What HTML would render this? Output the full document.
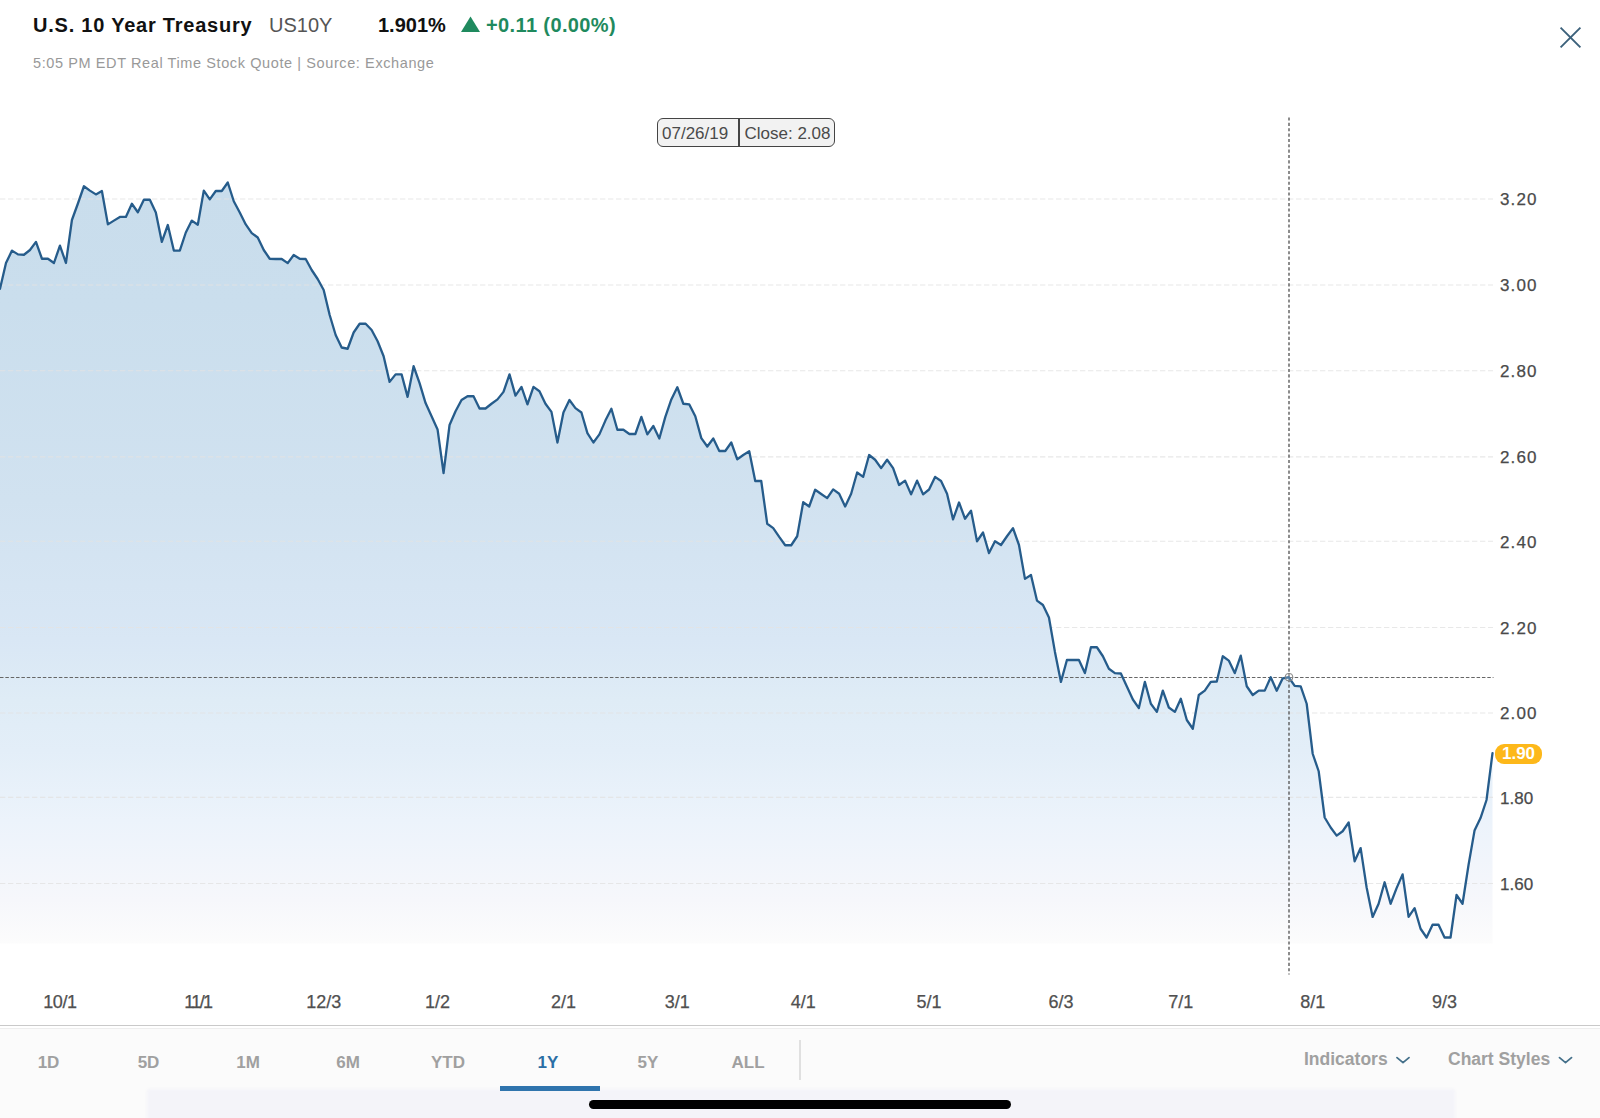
<!DOCTYPE html>
<html><head><meta charset="utf-8"><title>US10Y</title>
<style>
html,body{margin:0;padding:0;background:#fff;width:1600px;height:1118px;overflow:hidden;}
#root{width:1600px;height:1118px;position:relative;overflow:hidden;font-family:"Liberation Sans",sans-serif;}
.abs{position:absolute;white-space:nowrap;}
#title{left:33px;top:12.6px;font-size:20px;font-weight:bold;color:#111;line-height:24px;letter-spacing:0.78px;}
#sym{left:269px;top:12.6px;font-size:20px;color:#555;line-height:24px;}
#px{left:378px;top:12.6px;font-size:20px;font-weight:bold;color:#111;line-height:24px;}
#chg{left:486px;top:12.6px;font-size:20px;font-weight:bold;color:#1f8a5e;line-height:24px;letter-spacing:0.38px;}
#sub{left:33px;top:55px;font-size:14.5px;color:#999;line-height:16px;letter-spacing:0.6px;}
svg{position:absolute;left:0;top:0;}
.yl{position:absolute;left:1500px;width:60px;height:20px;line-height:20px;font-size:17px;color:#4a4a4a;letter-spacing:1.15px;-webkit-text-stroke:0.25px #4a4a4a;}
.xl{position:absolute;top:991.5px;width:60px;text-align:center;height:20px;line-height:20px;font-size:18px;color:#505050;-webkit-text-stroke:0.25px #505050;}
#bar{position:absolute;left:0;top:1025px;width:1600px;height:93px;background:linear-gradient(#c9c9c9 0,#c9c9c9 1.2px,#fff 1.2px,#fff 3px,#eee 3px,#eee 4px,#fbfbfb 4px);}
.tab{position:absolute;top:1052px;width:100px;text-align:center;height:22px;line-height:22px;font-size:17px;font-weight:bold;color:#a0a0a0;}
.tab.on{color:#2a6ea5;}
#ul{position:absolute;left:500px;top:1086px;width:100px;height:5px;background:#2f74ad;}
#dv{position:absolute;left:799.3px;top:1040px;width:1.4px;height:40px;background:#e0e0e0;}
.rt{position:absolute;top:1047.5px;height:22px;line-height:22px;font-size:17.5px;font-weight:bold;color:#a0a0a0;white-space:nowrap;}
#strip{position:absolute;left:149.5px;top:1091.5px;width:1302px;height:30px;background:#f4f4f9;box-shadow:0 0 3px 3px #f4f4f9;}
#home{position:absolute;left:589px;top:1100px;width:422px;height:8.5px;border-radius:5px;background:#000;}
#tip{position:absolute;left:657px;top:118px;width:176px;height:27px;border:1.5px solid #444;border-radius:6px;background:#f2f2f2;font-size:17px;color:#4a4a4a;line-height:27px;}
#tip .d{position:absolute;left:4px;top:0.5px;}
#tip .c{position:absolute;left:86.5px;top:0.5px;}
#tip .s{position:absolute;left:80.3px;top:0;width:1.5px;height:27px;background:#444;}
#badge{position:absolute;left:1495px;top:744px;width:47px;height:20px;border-radius:9px;background:#fdb81a;color:#fff;font-weight:bold;font-size:17px;line-height:20px;text-align:center;}
</style></head><body><div id="root">
<div id="title" class="abs">U.S. 10 Year Treasury</div>
<div id="sym" class="abs">US10Y</div>
<div id="px" class="abs">1.901%</div>
<div id="chg" class="abs">+0.11 (0.00%)</div>
<div id="sub" class="abs">5:05 PM EDT Real Time Stock Quote | Source: Exchange</div>
<svg width="1600" height="1118" viewBox="0 0 1600 1118">
<defs><linearGradient id="g" gradientUnits="userSpaceOnUse" x1="0" y1="180" x2="0" y2="943.5">
<stop offset="0" stop-color="#c9ddec"/>
<stop offset="0.164" stop-color="#cadeed"/>
<stop offset="0.419" stop-color="#d1e2f0"/>
<stop offset="0.602" stop-color="#d9e7f5"/>
<stop offset="0.681" stop-color="#dfecf6"/>
<stop offset="0.747" stop-color="#e3eef8"/>
<stop offset="0.838" stop-color="#ecf3fb"/>
<stop offset="0.943" stop-color="#f6f7fb"/>
<stop offset="1" stop-color="#fcfcfc"/>
</linearGradient></defs>
<path d="M0,943.5 L0.0,288.75 L5.99,263 L11.99,250.6 L17.98,254.4 L23.98,254.75 L29.97,250 L35.96,241.9 L41.96,258.75 L47.95,258.75 L53.95,263 L59.94,245.6 L65.93,263 L71.93,220 L77.92,203.5 L83.92,186.25 L89.91,190.6 L95.9,194.4 L101.9,191 L107.89,224.4 L113.89,220.6 L119.88,216.9 L125.87,216.9 L131.87,203.75 L137.86,212.25 L143.86,199.75 L149.85,199.75 L155.84,212.5 L161.84,241.9 L167.83,225 L173.83,250.6 L179.82,250.6 L185.81,232.5 L191.81,220.6 L197.8,224.7 L203.8,190.6 L209.79,199.4 L215.78,191 L221.78,191 L227.77,182.5 L233.77,201.25 L239.76,212.5 L245.75,224.4 L251.75,233.1 L257.74,237.5 L263.74,250 L269.73,258.75 L275.72,259 L281.72,259 L287.71,263.1 L293.71,255 L299.7,258.75 L305.69,259 L311.69,270 L317.68,279 L323.68,290 L329.67,315 L335.66,335 L341.66,347.5 L347.65,348.75 L353.65,332.5 L359.64,323.75 L365.63,323.75 L371.63,330 L377.62,341.25 L383.62,356.25 L389.61,381.9 L395.6,374.4 L401.6,374.4 L407.59,396.9 L413.59,366.25 L419.58,383.1 L425.57,403.1 L431.57,416.25 L437.56,429.4 L443.56,473.1 L449.55,425 L455.54,411.25 L461.54,400 L467.53,396.25 L473.53,396.25 L479.52,408.5 L485.51,408.5 L491.51,403.75 L497.5,399.4 L503.5,391.9 L509.49,374.4 L515.48,395.6 L521.48,386.9 L527.47,404.4 L533.47,386.9 L539.46,391.25 L545.45,403.75 L551.45,411.9 L557.44,442.5 L563.44,412.5 L569.43,400 L575.42,408.1 L581.42,412.5 L587.41,433.1 L593.41,442.5 L599.4,434.4 L605.39,420.6 L611.39,408.75 L617.38,429.75 L623.38,429.75 L629.37,434 L635.36,434 L641.36,416.9 L647.35,434.4 L653.35,426 L659.34,438.5 L665.33,416.9 L671.33,399.4 L677.32,387.25 L683.32,403.75 L689.31,404.4 L695.3,416.25 L701.3,438.1 L707.29,446.5 L713.29,438.5 L719.28,451 L725.27,451 L731.27,442.5 L737.26,459.4 L743.26,455 L749.25,451.25 L755.24,481 L761.24,481 L767.23,523.75 L773.23,528.1 L779.22,536.9 L785.21,545.25 L791.21,545.25 L797.2,536.25 L803.2,502.25 L809.19,506.5 L815.18,489.75 L821.18,494 L827.17,498.1 L833.17,489.4 L839.16,493.75 L845.15,506.5 L851.15,493.75 L857.14,472.5 L863.14,476.9 L869.13,455 L875.12,459.75 L881.12,468.1 L887.11,459.75 L893.11,468.1 L899.1,485 L905.09,480.6 L911.09,494.4 L917.08,480.6 L923.08,494.4 L929.07,489.5 L935.06,476.9 L941.06,481 L947.05,493.75 L953.05,519.4 L959.04,502.5 L965.03,518.75 L971.03,510.6 L977.02,541.25 L983.02,532.5 L989.01,553.1 L995.0,541.25 L1001.0,545 L1006.99,536.25 L1012.99,528.1 L1018.98,545 L1024.97,578.9 L1030.97,575 L1036.96,600.6 L1042.96,605 L1048.95,617.5 L1054.94,651.9 L1060.94,681.9 L1066.93,660 L1072.93,660 L1078.92,660 L1084.91,673.1 L1090.91,647.25 L1096.9,647.25 L1102.9,656.25 L1108.89,668.75 L1114.88,673.1 L1120.88,673.5 L1126.87,686.5 L1132.87,699.5 L1138.86,708.1 L1144.85,681.9 L1150.85,703.75 L1156.84,711.9 L1162.84,690.6 L1168.83,707.5 L1174.82,711.9 L1180.82,698.75 L1186.81,720 L1192.81,728.75 L1198.8,695 L1204.79,690.6 L1210.79,681.9 L1216.78,681.5 L1222.78,656.25 L1228.77,660.6 L1234.76,673.1 L1240.76,655.6 L1246.75,686.25 L1252.75,695 L1258.74,690.6 L1264.73,690.6 L1270.73,677.3 L1276.72,690.8 L1282.72,678.3 L1288.71,677.25 L1294.7,685.9 L1300.7,686.3 L1306.69,703.75 L1312.69,753.75 L1318.68,771.25 L1324.67,817.5 L1330.67,827.5 L1336.66,835.6 L1342.66,831.25 L1348.65,822.5 L1354.64,861.25 L1360.64,848.1 L1366.63,887.5 L1372.63,916.9 L1378.62,903.75 L1384.61,882.25 L1390.61,903.75 L1396.6,888.1 L1402.6,874.4 L1408.59,916.9 L1414.58,908.1 L1420.58,928.75 L1426.57,937.5 L1432.57,924.75 L1438.56,924.75 L1444.55,937.5 L1450.55,937.5 L1456.54,895 L1462.54,903.75 L1468.53,865 L1474.52,830.6 L1480.52,818.1 L1486.51,800 L1492.51,753.1 L1492.51,943.5 Z" fill="url(#g)"/>
<g stroke="#e4e4e4" stroke-width="1.1" stroke-dasharray="5.3,2.7" opacity="0.85"><line x1="0" y1="199.0" x2="1493" y2="199.0"/><line x1="0" y1="285.0" x2="1493" y2="285.0"/><line x1="0" y1="370.7" x2="1493" y2="370.7"/><line x1="0" y1="456.9" x2="1493" y2="456.9"/><line x1="0" y1="541.3" x2="1493" y2="541.3"/><line x1="0" y1="627.5" x2="1493" y2="627.5"/><line x1="0" y1="713.0" x2="1493" y2="713.0"/><line x1="0" y1="797.4" x2="1493" y2="797.4"/><line x1="0" y1="883.5" x2="1493" y2="883.5"/></g>
<line x1="0" y1="677.5" x2="1493.5" y2="677.5" stroke="#666" stroke-width="1.2" stroke-dasharray="3.5,1.85"/>
<line x1="1289" y1="117.5" x2="1289" y2="974.5" stroke="#5c5c5c" stroke-width="1.4" stroke-dasharray="3.1,2.25"/>
<polyline points="0.0,288.75 5.99,263 11.99,250.6 17.98,254.4 23.98,254.75 29.97,250 35.96,241.9 41.96,258.75 47.95,258.75 53.95,263 59.94,245.6 65.93,263 71.93,220 77.92,203.5 83.92,186.25 89.91,190.6 95.9,194.4 101.9,191 107.89,224.4 113.89,220.6 119.88,216.9 125.87,216.9 131.87,203.75 137.86,212.25 143.86,199.75 149.85,199.75 155.84,212.5 161.84,241.9 167.83,225 173.83,250.6 179.82,250.6 185.81,232.5 191.81,220.6 197.8,224.7 203.8,190.6 209.79,199.4 215.78,191 221.78,191 227.77,182.5 233.77,201.25 239.76,212.5 245.75,224.4 251.75,233.1 257.74,237.5 263.74,250 269.73,258.75 275.72,259 281.72,259 287.71,263.1 293.71,255 299.7,258.75 305.69,259 311.69,270 317.68,279 323.68,290 329.67,315 335.66,335 341.66,347.5 347.65,348.75 353.65,332.5 359.64,323.75 365.63,323.75 371.63,330 377.62,341.25 383.62,356.25 389.61,381.9 395.6,374.4 401.6,374.4 407.59,396.9 413.59,366.25 419.58,383.1 425.57,403.1 431.57,416.25 437.56,429.4 443.56,473.1 449.55,425 455.54,411.25 461.54,400 467.53,396.25 473.53,396.25 479.52,408.5 485.51,408.5 491.51,403.75 497.5,399.4 503.5,391.9 509.49,374.4 515.48,395.6 521.48,386.9 527.47,404.4 533.47,386.9 539.46,391.25 545.45,403.75 551.45,411.9 557.44,442.5 563.44,412.5 569.43,400 575.42,408.1 581.42,412.5 587.41,433.1 593.41,442.5 599.4,434.4 605.39,420.6 611.39,408.75 617.38,429.75 623.38,429.75 629.37,434 635.36,434 641.36,416.9 647.35,434.4 653.35,426 659.34,438.5 665.33,416.9 671.33,399.4 677.32,387.25 683.32,403.75 689.31,404.4 695.3,416.25 701.3,438.1 707.29,446.5 713.29,438.5 719.28,451 725.27,451 731.27,442.5 737.26,459.4 743.26,455 749.25,451.25 755.24,481 761.24,481 767.23,523.75 773.23,528.1 779.22,536.9 785.21,545.25 791.21,545.25 797.2,536.25 803.2,502.25 809.19,506.5 815.18,489.75 821.18,494 827.17,498.1 833.17,489.4 839.16,493.75 845.15,506.5 851.15,493.75 857.14,472.5 863.14,476.9 869.13,455 875.12,459.75 881.12,468.1 887.11,459.75 893.11,468.1 899.1,485 905.09,480.6 911.09,494.4 917.08,480.6 923.08,494.4 929.07,489.5 935.06,476.9 941.06,481 947.05,493.75 953.05,519.4 959.04,502.5 965.03,518.75 971.03,510.6 977.02,541.25 983.02,532.5 989.01,553.1 995.0,541.25 1001.0,545 1006.99,536.25 1012.99,528.1 1018.98,545 1024.97,578.9 1030.97,575 1036.96,600.6 1042.96,605 1048.95,617.5 1054.94,651.9 1060.94,681.9 1066.93,660 1072.93,660 1078.92,660 1084.91,673.1 1090.91,647.25 1096.9,647.25 1102.9,656.25 1108.89,668.75 1114.88,673.1 1120.88,673.5 1126.87,686.5 1132.87,699.5 1138.86,708.1 1144.85,681.9 1150.85,703.75 1156.84,711.9 1162.84,690.6 1168.83,707.5 1174.82,711.9 1180.82,698.75 1186.81,720 1192.81,728.75 1198.8,695 1204.79,690.6 1210.79,681.9 1216.78,681.5 1222.78,656.25 1228.77,660.6 1234.76,673.1 1240.76,655.6 1246.75,686.25 1252.75,695 1258.74,690.6 1264.73,690.6 1270.73,677.3 1276.72,690.8 1282.72,678.3 1288.71,677.25 1294.7,685.9 1300.7,686.3 1306.69,703.75 1312.69,753.75 1318.68,771.25 1324.67,817.5 1330.67,827.5 1336.66,835.6 1342.66,831.25 1348.65,822.5 1354.64,861.25 1360.64,848.1 1366.63,887.5 1372.63,916.9 1378.62,903.75 1384.61,882.25 1390.61,903.75 1396.6,888.1 1402.6,874.4 1408.59,916.9 1414.58,908.1 1420.58,928.75 1426.57,937.5 1432.57,924.75 1438.56,924.75 1444.55,937.5 1450.55,937.5 1456.54,895 1462.54,903.75 1468.53,865 1474.52,830.6 1480.52,818.1 1486.51,800 1492.51,753.1" fill="none" stroke="#265c8b" stroke-width="2.3" stroke-linejoin="round" stroke-linecap="round"/>
<circle cx="1289" cy="677.2" r="3.9" fill="rgba(255,255,255,0.2)" stroke="#808080" stroke-width="1"/>
<polygon points="461,32 470.5,16.5 480,32" fill="#1f8a5e"/>
<g stroke="#3b607a" stroke-width="1.9" stroke-linecap="butt"><line x1="1560.6" y1="27.6" x2="1580.4" y2="47.4"/><line x1="1580.4" y1="27.6" x2="1560.6" y2="47.4"/></g>
</svg>
<div class="yl" style="top:190.3px">3.20</div><div class="yl" style="top:276.3px">3.00</div><div class="yl" style="top:362.0px">2.80</div><div class="yl" style="top:448.2px">2.60</div><div class="yl" style="top:532.6px">2.40</div><div class="yl" style="top:618.8px">2.20</div><div class="yl" style="top:704.3px">2.00</div><div class="yl" style="top:788.7px;letter-spacing:0px">1.80</div><div class="yl" style="top:874.8px;letter-spacing:0px">1.60</div>
<div class="xl" style="left:29.9px;letter-spacing:-0.5px">10/1</div><div class="xl" style="left:167.8px;letter-spacing:-1.6px">11/1</div><div class="xl" style="left:293.7px">12/3</div><div class="xl" style="left:407.6px">1/2</div><div class="xl" style="left:533.4px">2/1</div><div class="xl" style="left:647.3px">3/1</div><div class="xl" style="left:773.2px">4/1</div><div class="xl" style="left:899.1px">5/1</div><div class="xl" style="left:1030.9px">6/3</div><div class="xl" style="left:1150.8px">7/1</div><div class="xl" style="left:1282.7px">8/1</div><div class="xl" style="left:1414.6px">9/3</div>
<div id="tip"><span class="d">07/26/19</span><span class="s"></span><span class="c">Close: 2.08</span></div>
<div id="badge">1.90</div>
<div id="bar"></div>
<div id="strip"></div>
<div class="tab" style="left:-1.5px">1D</div><div class="tab" style="left:98.5px">5D</div><div class="tab" style="left:198px">1M</div><div class="tab" style="left:298px">6M</div><div class="tab" style="left:398px">YTD</div><div class="tab on" style="left:498px">1Y</div><div class="tab" style="left:598px">5Y</div><div class="tab" style="left:698px">ALL</div>
<div id="ul"></div>
<div id="dv"></div>
<div class="rt" style="left:1304px">Indicators</div>
<div class="rt" style="left:1448px">Chart Styles</div>
<svg width="1600" height="1118" viewBox="0 0 1600 1118" style="pointer-events:none">
<g fill="none" stroke="#44708a" stroke-width="1.8" stroke-linecap="round" stroke-linejoin="round">
<polyline points="1397,1057.6 1403,1062.6 1409,1057.6"/><polyline points="1559.5,1057.6 1565.5,1062.6 1571.5,1057.6"/></g>
</svg>
<div id="home"></div>
</div></body></html>
